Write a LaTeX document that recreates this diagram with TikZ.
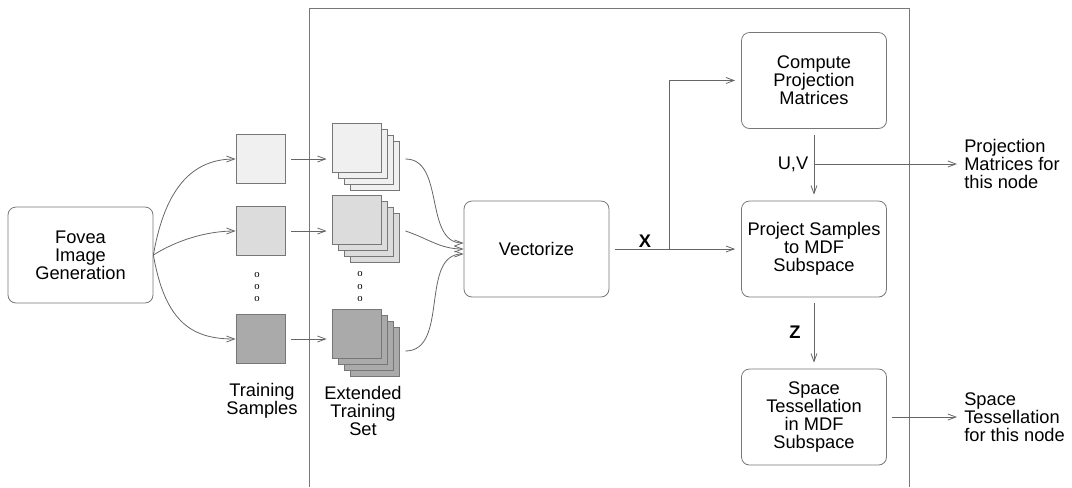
\documentclass[tikz,border=0pt]{standalone}
\usepackage{fontspec}
\setmainfont{Liberation Sans}
\newfontfamily\dotfont{Liberation Serif}
\usetikzlibrary{arrows.meta,calc}
\definecolor{linec}{HTML}{666666}
\definecolor{boxc}{HTML}{777777}
\definecolor{shadeA}{HTML}{F0F0F0}
\definecolor{shadeB}{HTML}{DCDCDC}
\definecolor{shadeC}{HTML}{AAAAAA}
\newcommand\lblfont{\fontsize{13.7}{13.5}\selectfont}
\newcommand\dotsfont{\dotfont\fontsize{8}{9}\selectfont}
\begin{document}
\begin{tikzpicture}[x=0.75pt,y=-0.75pt,
  proc/.style={draw=boxc, line width=0.6pt, rounded corners=6pt,
    minimum width=108.75pt, minimum height=72pt, align=center, font=\lblfont},
  sq/.style={draw=boxc, line width=0.6pt, minimum size=36.75pt, inner sep=0pt},
  backsq/.style={draw=boxc, line width=0.6pt},
  arr/.style={draw=linec, line width=0.6pt, -{Straight Barb[length=6pt,width=4.5pt]}},
  txt/.style={align=center, font=\lblfont, inner sep=0pt},
  outtxt/.style={align=left, font=\lblfont, inner sep=0pt, anchor=west},
  dotmark/.style={font=\dotsfont, inner sep=0pt}]
\useasboundingbox (0,0) rectangle (1072,487);

% enclosing frame (open at the bottom)
\draw[draw=boxc, line width=0.6pt] (309,487) -- (309,8) -- (909,8) -- (909,487);

% process boxes
\node[proc] (fov)  at (80.5,255)  {Fovea\\Image\\Generation};
\node[proc] (vec)  at (536.5,249) {Vectorize};
\node[proc] (comp) at (814,80.5)  {Compute\\Projection\\Matrices};
\node[proc] (proj) at (814,249)   {Project Samples\\to MDF\\Subspace};
\node[proc] (tess) at (814,417)   {Space\\Tessellation\\in MDF\\Subspace};

% training samples
\node[sq, fill=shadeA] (s1) at (260.5,159) {};
\node[sq, fill=shadeB] (s2) at (260.5,231) {};
\node[sq, fill=shadeC] (s3) at (260.5,339) {};
\foreach \yy in {275,287,299} \node[dotmark] at (257,\yy) {o};
\node[txt] (tslbl) at (262,401) {Training\\Samples};

% extended training set: stacks of four shifted squares
\foreach \k in {18,12,6} {
  \draw[backsq, fill=shadeA] (332+\k,123+\k) rectangle ++(49,49);
  \draw[backsq, fill=shadeB] (332+\k,195+\k) rectangle ++(49,49);
  \draw[backsq, fill=shadeC] (332+\k,309+\k) rectangle ++(49,49);
}
\node[sq, fill=shadeA] (e1) at (356.5,147.5) {};
\node[sq, fill=shadeB] (e2) at (356.5,219.5) {};
\node[sq, fill=shadeC] (e3) at (356.5,333.5) {};
\foreach \yy in {274,287,299} \node[dotmark] at (360,\yy) {o};
\node[txt] (etlbl) at (363,411) {Extended\\Training\\Set};

% fovea generation to samples
\draw[arr] (fov.east) .. controls +(12,-70) and +(-41,0) .. (s1.west);
\draw[arr] (fov.east) .. controls +(22,-14) and +(-30,0) .. (s2.west);
\draw[arr] (fov.east) .. controls +(12,70) and +(-41,0) .. (s3.west);

% samples to extended sets
\draw[arr] ($(s1.east)+(6,0)$) -- ($(s1.east -| e1.west)+(-5,0)$);
\draw[arr] ($(s2.east)+(6,0)$) -- ($(s2.east -| e2.west)+(-5,0)$);
\draw[arr] ($(s3.east)+(6,0)$) -- ($(s3.east -| e3.west)+(-5,0)$);

% extended sets to vectorize
\draw[arr] ($(e1.east)+(24,11.5)$) to[out=0,in=180] ($(vec.west)+(0,-6)$);
\draw[arr] ($(e2.east)+(24,11.5)$) to[out=-18,in=180] ($(vec.west)+(0,0)$);
\draw[arr] ($(e3.east)+(24,17.5)$) to[out=0,in=180] ($(vec.west)+(0,5)$);

% X splits to both projection steps
\coordinate (xs) at ($(vec.east)+(60,0)$);
\draw[arr] ($(vec.east)+(6,0)$) -- ($(proj.west)+(-6,0)$);
\draw[arr] (xs) |- ($(comp.west)+(-6,0)$);
\node[font=\lblfont\bfseries, inner sep=1pt, anchor=south] (xl) at (645,249) {X};

% U,V from projection matrices
\coordinate (uv) at (814,164);
\node[outtxt] (pm) at (964,164) {Projection\\Matrices for\\this node};
\draw[arr] ($(comp.south)+(0,6)$) -- ($(proj.north)+(0,-6)$);
\draw[arr] (uv) -- ($(pm.west)+(-7,0)$);
\node[font=\lblfont, inner sep=0pt] (uvl) at (793,164) {U,V};

% Z to tessellation
\draw[arr] ($(proj.south)+(0,6)$) -- ($(tess.north)+(0,-6)$);
\node[font=\lblfont\bfseries, inner sep=0pt] (zl) at (795,332) {Z};

% tessellation output
\node[outtxt] (st) at (964,417) {Space\\Tessellation\\for this node};
\draw[arr] ($(tess.east)+(5,0)$) -- ($(st.west)+(-7,0)$);
\end{tikzpicture}
\end{document}
